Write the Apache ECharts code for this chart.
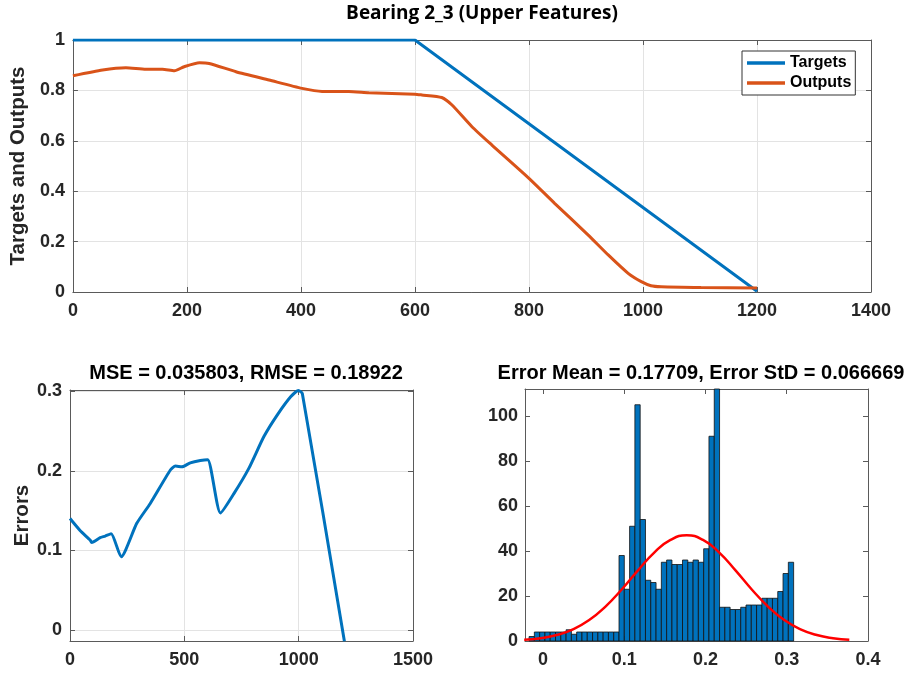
<!DOCTYPE html>
<html><head><meta charset="utf-8">
<script src="https://cdn.jsdelivr.net/npm/echarts@6/dist/echarts.min.js"></script>
<style>html,body{margin:0;padding:0;background:#fff}#c{width:910px;height:679px}</style>
</head><body><div id="c"></div>
<script>
// ---------- data ----------
const targetsX = [0, 600, 1200];
const targetsY = [1, 1, 0.003];

const outputsX = [0, 52, 93, 128, 157, 178, 195, 222, 239, 286, 344, 402, 437, 484, 519, 600, 612, 647, 665, 700, 735, 800, 845, 904, 939, 974, 997, 1014, 1032, 1102, 1200];
const outputsY = [0.858, 0.881, 0.890, 0.884, 0.884, 0.878, 0.894, 0.910, 0.907, 0.874, 0.841, 0.808, 0.796, 0.796, 0.791, 0.785, 0.782, 0.772, 0.742, 0.656, 0.583, 0.451, 0.352, 0.226, 0.147, 0.074, 0.041, 0.025, 0.021, 0.018, 0.016];

const errorX = [0, 44, 88, 95, 132, 154, 180, 224, 292, 351, 439, 461, 490, 526, 570, 602, 658, 716, 782, 848, 906, 965, 999, 1016, 1200];
const errorY = [0.140, 0.125, 0.113, 0.110, 0.116, 0.118, 0.121, 0.092, 0.134, 0.159, 0.201, 0.206, 0.205, 0.210, 0.213, 0.214, 0.147, 0.171, 0.203, 0.243, 0.270, 0.293, 0.301, 0.297, -0.014];

const histCounts = [2, 4, 4, 4, 4, 4, 4, 5, 3, 4, 4, 4, 4, 4, 4, 4, 4,
  38, 23, 51, 105, 54, 27, 26, 23, 35, 36, 34, 34, 36, 35, 36, 35, 41, 91, 115,
  15, 15, 14, 14, 15, 16, 16, 16, 19, 19, 19, 22, 30, 35];
const histStart = -0.0170;
const histEnd = 0.3085;

const fitX = [-0.023, -0.003, 0.017, 0.037, 0.057, 0.077, 0.097, 0.117, 0.137, 0.157, 0.177, 0.197, 0.217, 0.237, 0.257, 0.277, 0.297, 0.317, 0.337, 0.357, 0.377];
const fitY = [0.52, 1.23, 2.64, 5.2, 9.3, 15.3, 22.9, 31.4, 39.3, 44.9, 47.0, 44.9, 39.3, 31.4, 22.9, 15.3, 9.3, 5.2, 2.64, 1.23, 0.52];

const topXTicks = [0, 200, 400, 600, 800, 1000, 1200, 1400];
const topYTicks = [0, 0.2, 0.4, 0.6, 0.8, 1];
const errXTicks = [0, 500, 1000, 1500];
const errYTicks = [0, 0.1, 0.2, 0.3];
const histXTicks = [0, 0.1, 0.2, 0.3, 0.4];
const histYTicks = [0, 20, 40, 60, 80, 100];

// ---------- helpers ----------
const AXC = '#262626';
const BOX = '#5a5a5a';
const FONT = 'Liberation Sans, Arial, sans-serif';
function tickFmt(ticks) {
  return function (v) {
    for (const t of ticks) if (Math.abs(v - t) < 1e-6) return String(t);
    return '';
  };
}
function mainAxis(type, gridIndex, min, max, ticks, opts) {
  const o = {
    type: 'value', gridIndex: gridIndex, min: min, max: max,
    position: type === 'x' ? 'bottom' : 'left',
    axisLine: { show: true, onZero: false, lineStyle: { color: BOX, width: 1 } },
    axisTick: { show: true, inside: true, length: 5, lineStyle: { color: BOX } },
    axisLabel: {
      show: true, color: AXC, fontFamily: FONT, fontWeight: 'bold', fontSize: 18,
      margin: type === 'x' ? 10 : 8, formatter: tickFmt(ticks), showMinLabel: true, showMaxLabel: true
    },
    splitLine: { show: true, lineStyle: { color: '#e3e3e3', width: 1 } }
  };
  return Object.assign(o, opts || {});
}
function auxAxis(type, gridIndex, min, max, opts) {
  const o = {
    type: 'value', gridIndex: gridIndex, min: min, max: max,
    position: type === 'x' ? 'top' : 'right',
    axisLine: { show: true, onZero: false, lineStyle: { color: BOX, width: 1 } },
    axisTick: { show: true, inside: true, length: 5, lineStyle: { color: BOX } },
    axisLabel: { show: false },
    splitLine: { show: false }
  };
  return Object.assign(o, opts || {});
}
function zip(a, b) { return a.map((v, i) => [v, b[i]]); }

const nBins = histCounts.length;
const binW = (histEnd - histStart) / nBins;
const histData = histCounts.map((c, i) => [histStart + i * binW, histStart + (i + 1) * binW, c]);

const yNameStyle = { color: AXC, fontFamily: FONT, fontWeight: 'bold', fontSize: 20.5 };
const subTitleStyle = { color: '#000', fontFamily: FONT, fontWeight: 'bold', fontSize: 20 };

const chart = echarts.init(document.getElementById('c'), null, { renderer: 'canvas' });
chart.setOption({
  animation: false,
  backgroundColor: '#fff',
  title: [
    { text: 'Bearing 2_3 (Upper Features)', left: 477, top: -1, textAlign: 'center',
      textStyle: { color: '#000', fontFamily: 'Open Sans, sans-serif', fontWeight: 'bold', fontSize: 19 } },
    { text: 'MSE = 0.035803, RMSE = 0.18922', left: 241, top: 358, textAlign: 'center', textStyle: subTitleStyle },
    { text: 'Error Mean = 0.17709, Error StD = 0.066669', left: 696, top: 358, textAlign: 'center', textStyle: subTitleStyle }
  ],
  legend: {
    data: [{ name: 'Targets', icon: 'rect' }, { name: 'Outputs', icon: 'rect' }],
    orient: 'vertical', left: 742, top: 51,
    backgroundColor: '#fff', borderColor: '#333', borderWidth: 1,
    padding: [4, 4, 4, 5], itemGap: 4, itemWidth: 38, itemHeight: 3.5,
    textStyle: { color: '#000', fontFamily: FONT, fontWeight: 'bold', fontSize: 16 }
  },
  grid: [
    { left: 70, top: 40, width: 801, height: 252 },
    { left: 70, top: 390, width: 343, height: 251 },
    { left: 525, top: 389, width: 343, height: 252 }
  ],
  xAxis: [
    mainAxis('x', 0, 0, 1400, topXTicks, { interval: 200 }),
    auxAxis('x', 0, 0, 1400, { interval: 200 }),
    mainAxis('x', 1, 0, 1500, errXTicks, { interval: 500 }),
    auxAxis('x', 1, 0, 1500, { interval: 500 }),
    mainAxis('x', 2, -0.022, 0.4, histXTicks, { splitNumber: 4, minInterval: 0.1, maxInterval: 0.1, splitLine: { show: false } }),
    auxAxis('x', 2, -0.022, 0.4, { splitNumber: 4, minInterval: 0.1, maxInterval: 0.1 })
  ],
  yAxis: [
    mainAxis('y', 0, 0, 1, topYTicks, { interval: 0.2, name: 'Targets and Outputs', nameLocation: 'middle', nameGap: 34, nameTextStyle: yNameStyle }),
    auxAxis('y', 0, 0, 1, { interval: 0.2 }),
    mainAxis('y', 1, -0.0138, 0.3015, errYTicks, { splitNumber: 3, minInterval: 0.1, maxInterval: 0.1, name: 'Errors', nameLocation: 'middle', nameGap: 35, nameTextStyle: yNameStyle }),
    auxAxis('y', 1, -0.0138, 0.3015, { splitNumber: 3, minInterval: 0.1, maxInterval: 0.1 }),
    mainAxis('y', 2, 0, 112, histYTicks, { interval: 20, splitLine: { show: false }, axisLabel: { show: true, color: AXC, fontFamily: FONT, fontWeight: 'bold', fontSize: 18, margin: 7, formatter: tickFmt(histYTicks) } }),
    auxAxis('y', 2, 0, 112, { interval: 20 })
  ],
  series: [
    { name: 'Targets', type: 'line', xAxisIndex: 0, yAxisIndex: 0, data: zip(targetsX, targetsY),
      symbol: 'none', color: '#0072BD', lineStyle: { color: '#0072BD', width: 3 }, z: 3 },
    { name: 'Outputs', type: 'line', xAxisIndex: 0, yAxisIndex: 0, data: zip(outputsX, outputsY),
      symbol: 'none', smooth: 0.2, color: '#D95319', lineStyle: { color: '#D95319', width: 3 }, z: 4 },
    { name: 'Errors', type: 'line', xAxisIndex: 2, yAxisIndex: 2, data: zip(errorX, errorY),
      symbol: 'none', smooth: 0.2, clip: true, color: '#0072BD', lineStyle: { color: '#0072BD', width: 3 } },
    { name: 'Histogram', type: 'custom', xAxisIndex: 4, yAxisIndex: 4, data: histData,
      encode: { x: [0, 1], y: 2 },
      renderItem: function (params, api) {
        const p0 = api.coord([api.value(0), api.value(2)]);
        const p1 = api.coord([api.value(1), 0]);
        const rect = { x: p0[0], y: p0[1], width: p1[0] - p0[0], height: p1[1] - p0[1] };
        const cs = params.coordSys;
        const r = echarts.graphic.clipRectByRect(rect, { x: cs.x, y: cs.y, width: cs.width, height: cs.height });
        return r && { type: 'rect', shape: r, style: { fill: '#0072BD', stroke: '#111', lineWidth: 0.8 } };
      }, z: 2 },
    { name: 'Fit', type: 'line', xAxisIndex: 4, yAxisIndex: 4, data: zip(fitX, fitY),
      symbol: 'none', smooth: true, color: '#FF0000', lineStyle: { color: '#FF0000', width: 2.5 }, z: 5 }
  ]
});
</script>
</body></html>
